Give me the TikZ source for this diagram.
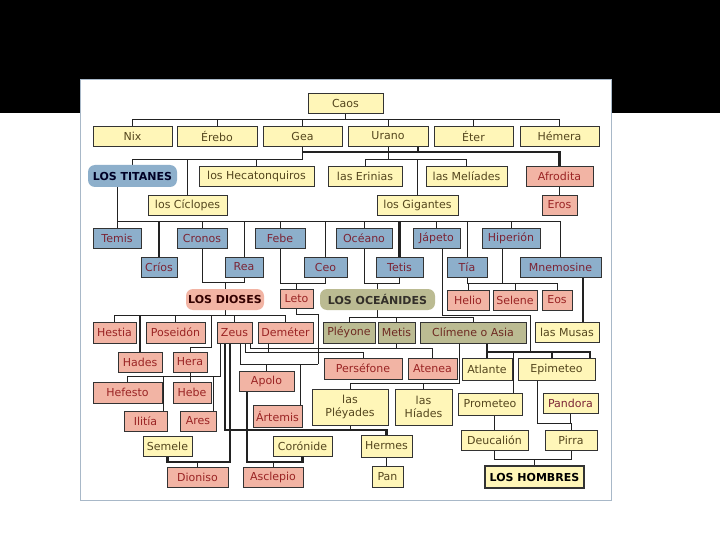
\documentclass[tikz,border=0pt]{standalone}
\usepackage{fontspec}
\setmainfont{DejaVu Sans}
\usetikzlibrary{shadows}
\definecolor{yf}{HTML}{FFF6B8}
\definecolor{bf}{HTML}{8DAFCB}
\definecolor{pf}{HTML}{F2B4A4}
\definecolor{of}{HTML}{BBBB92}
\definecolor{bd}{HTML}{333333}
\definecolor{yt}{HTML}{54461E}
\definecolor{bt}{HTML}{7B2435}
\definecolor{pt}{HTML}{9A2424}
\definecolor{ot}{HTML}{6E2A22}
\definecolor{lc}{HTML}{222222}
\definecolor{panelbd}{HTML}{A8B8C8}
\pgfdeclarelayer{bg}
\pgfdeclarelayer{lines}
\pgfsetlayers{bg,lines,main}
\newcommand\bx[7]{\node[#1, minimum width={(#5-#3)*1pt}, minimum height={(#6-#4)*1pt}] (#2) at ({(#3+#5)/2},{(#4+#6)/2}) {#7};}
\tikzset{
  bxs/.style={rectangle, inner sep=0pt, outer sep=0pt, draw=bd, line width=0.9pt, align=center,
    font=\fontsize{11}{13}\selectfont,
    drop shadow={shadow xshift=0.9pt, shadow yshift=-0.9pt, opacity=1, fill=bd}},
  yb/.style={bxs, fill=yf, text=yt},
  bb/.style={bxs, fill=bf, text=bt},
  pb/.style={bxs, fill=pf, text=pt},
  ob/.style={bxs, fill=of, text=ot},
  lab/.style={rectangle, rounded corners=7pt, inner sep=0pt, outer sep=0pt, font=\bfseries\fontsize{11}{12}\selectfont},
  ln/.style={draw=lc, line width=0.9pt},
  tk/.style={draw=lc, line width=2.2pt}
}
\begin{document}
\begin{tikzpicture}[x=1pt,y=-1pt]
\useasboundingbox (0,0) rectangle (720,540);
\begin{pgfonlayer}{bg}
\fill[white] (0,0) rectangle (720,540);
\fill[black] (0,0) rectangle (720,113);
\draw[fill=white, draw=panelbd, line width=1pt] (80,80) rectangle (611,500);
\end{pgfonlayer}
% row 0-1
\bx{yb}{caos}{308}{93}{383}{113}{Caos}
\bx{yb}{nix}{93}{126}{172}{146}{Nix}
\bx{yb}{erebo}{177}{126}{257}{146}{Érebo}
\bx{yb}{gea}{263}{126}{342}{146}{Gea}
\bx{yb}{urano}{348}{126}{428}{146}{Urano}
\bx{yb}{eter}{434}{126}{513}{146}{Éter}
\bx{yb}{hemera}{520}{126}{599}{146}{Hémera}
% row 2-3
\bx{lab, fill=bf, text=black!85!blue}{titanes}{88}{165}{177}{187}{LOS TITANES}
\bx{yb}{hecat}{199}{166}{314}{186}{los Hecatonquiros}
\bx{yb}{erinias}{328}{166}{402}{186}{las Erinias}
\bx{yb}{meliades}{426}{166}{507}{186}{las Melíades}
\bx{pb}{afrodita}{526}{166}{593}{186}{Afrodita}
\bx{yb}{ciclopes}{148}{195}{227}{215}{los Cíclopes}
\bx{yb}{gigantes}{377}{195}{458}{215}{los Gigantes}
\bx{pb}{eros}{542}{195}{577}{215}{Eros}
% titans
\bx{bb}{temis}{93}{228}{141}{248}{Temis}
\bx{bb}{cronos}{177}{228}{227}{248}{Cronos}
\bx{bb}{febe}{255}{228}{305}{248}{Febe}
\bx{bb}{oceano}{336}{228}{392}{248}{Océano}
\bx{bb}{japeto}{413}{228}{460}{248}{Jápeto}
\bx{bb}{hiperion}{482}{228}{540}{248}{Hiperión}
\bx{bb}{crios}{141}{257}{177}{277}{Críos}
\bx{bb}{rea}{225}{257}{263}{277}{Rea}
\bx{bb}{ceo}{304}{257}{347}{277}{Ceo}
\bx{bb}{tetis}{376}{257}{423}{277}{Tetis}
\bx{bb}{tia}{447}{257}{487}{277}{Tía}
\bx{bb}{mnemosine}{520}{257}{601}{277}{Mnemosine}
% row 6
\bx{lab, fill=pf, text=black!80!red}{dioses}{186}{289}{264}{310}{LOS DIOSES}
\bx{pb}{leto}{280}{289}{313}{308}{Leto}
\bx{lab, fill=of, text=black!85!olive}{oceanides}{320}{289}{435}{310}{LOS OCEÁNIDES}
\bx{pb}{helio}{447}{290}{489}{310}{Helio}
\bx{pb}{selene}{493}{290}{537}{310}{Selene}
\bx{pb}{eos}{542}{290}{572}{310}{Eos}
% row 7
\bx{pb}{hestia}{93}{322}{136}{343}{Hestia}
\bx{pb}{poseidon}{146}{322}{205}{343}{Poseidón}
\bx{pb}{zeus}{217}{322}{252}{343}{Zeus}
\bx{pb}{demeter}{258}{322}{313}{343}{Deméter}
\bx{ob}{pleyone}{323}{322}{375}{343}{Pléyone}
\bx{ob}{metis}{378}{322}{415}{343}{Metis}
\bx{ob}{climene}{420}{322}{526}{343}{Clímene o Asia}
\bx{yb}{musas}{535}{322}{599}{342}{las Musas}
% row 8
\bx{pb}{hades}{118}{352}{162}{372}{Hades}
\bx{pb}{hera}{173}{352}{207}{372}{Hera}
\bx{pb}{persefone}{324}{358}{402}{379}{Perséfone}
\bx{pb}{atenea}{408}{358}{457}{379}{Atenea}
\bx{yb}{atlante}{462}{358}{512}{380}{Atlante}
\bx{yb}{epimeteo}{518}{358}{595}{380}{Epimeteo}
\bx{pb}{apolo}{239}{371}{294}{391}{Apolo}
% row 9
\bx{pb}{hefesto}{93}{382}{162}{403}{Hefesto}
\bx{pb}{hebe}{173}{382}{211}{403}{Hebe}
\bx{yb}{pleyades}{312}{389}{388}{425}{las\\Pléyades}
\bx{yb}{hiades}{395}{389}{452}{425}{las\\Híades}
\bx{yb}{prometeo}{458}{393}{522}{415}{Prometeo}
\bx{yb, text=bt}{pandora}{543}{393}{598}{413}{Pandora}
\bx{pb}{ilitia}{124}{411}{167}{431}{Ilitía}
\bx{pb}{ares}{180}{411}{216}{431}{Ares}
\bx{pb}{artemis}{253}{405}{302}{427}{Ártemis}
% row 10-11
\bx{yb}{semele}{143}{436}{192}{456}{Semele}
\bx{yb}{coronide}{273}{436}{332}{456}{Corónide}
\bx{yb}{hermes}{361}{435}{412}{457}{Hermes}
\bx{yb}{deucalion}{461}{430}{528}{450}{Deucalión}
\bx{yb}{pirra}{545}{430}{597}{450}{Pirra}
\bx{pb}{dioniso}{167}{467}{228}{487}{Dioniso}
\bx{pb}{asclepio}{243}{467}{303}{487}{Asclepio}
\bx{yb}{pan}{372}{466}{403}{487}{Pan}
\bx{yb, line width=2pt, text=black, font=\bfseries\fontsize{11}{12}\selectfont}{hombres}{485}{466}{584}{488}{LOS HOMBRES}

\begin{pgfonlayer}{lines}
% Caos
\draw[ln] (caos.south) -- ++(0,6);
\draw[ln] (nix.north) -- ++(0,-7) -| (hemera.north);
\foreach \n in {erebo,gea,urano,eter} \draw[ln] (\n.north) -- ++(0,-7);
% Gea + Urano
\draw[ln] (gea.south) -- ++(0,13) -| (titanes.north);
\draw[ln] (ciclopes.north) -- ++(0,-36);
\draw[ln] (hecat.north) -- ++(0,-7);
\draw[tk] (gea.south) ++(0,6) -| (afrodita.north);
\draw[tk] ([xshift=-10pt]urano.south east) -- ++(0,6);
\draw[ln] (urano.south) -- ++(0,13);
\draw[ln] (erinias.north) -- ++(0,-7) -| (meliades.north);
\draw[ln] (gigantes.north) -- ++(0,-36);
\draw[ln] (afrodita.south) -- (eros.north);
% Titans
\draw[ln] (titanes.south -| temis.north) -- (temis.north);
\draw[ln] (temis.north) ++(0,-7) -| (mnemosine.north);
\foreach \n in {cronos,febe,oceano,japeto,hiperion} \draw[ln] (\n.north) -- ++(0,-7);
\foreach \n in {rea,ceo,tia} \draw[ln] (\n.north) -- ++(0,-36);
\foreach \n in {crios,tetis} \draw[tk] (\n.north) -- ++(0,-36);
% Titan couples
\draw[ln] (cronos.south) -- ++(0,34) -| (rea.south);
\draw[ln] (dioses.north) -- ++(0,-7);
\draw[ln] (febe.south) -- ++(0,35) -| (ceo.south);
\draw[ln] (leto.north) -- ++(0,-6);
\draw[ln] (oceano.south) -- ++(0,35) -| (tetis.south);
\draw[ln] (oceanides.north) -- ++(0,-6);
\draw[ln] ([xshift=-9pt]hiperion.south) -- ++(0,35) -| (tia.south);
\draw[ln] (tia.south) ++(0,6) -| (eos.north);
\draw[ln] (helio.north) -- ++(0,-7);
\draw[ln] (selene.north) -- ++(0,-7);
% Japeto + Climene
\draw[ln] ([xshift=6pt]japeto.south) |- (530,315) -- (530,352);
\draw[tk] (climene.south -| atlante.north) -- (atlante.north);
\draw[tk] (atlante.north) ++(0,-6) -- (590,352) -- (590,358);
\draw[ln] ([xshift=23pt]prometeo.north) -- ++(0,-41);
\draw[tk] ([xshift=-4.5pt]epimeteo.north) -- ++(0,-6);
% Mnemosine
\draw[tk] ([xshift=22.5pt]mnemosine.south) -- ([xshift=16pt]musas.north);
% Los dioses
\draw[ln] (dioses.south) -- ++(0,5);
\draw[ln] (hestia.north) -- ++(0,-7) -| (demeter.north);
\draw[ln] (poseidon.north) -- ++(0,-7);
\draw[ln] (zeus.north) -- ++(0,-7);
\draw[tk] (hades.north) -- ++(0,-37);
\draw[ln] (hera.north) -- ++(0,-5) -| (211,315);
% Oceanides
\draw[ln] (oceanides.south) -- ++(0,7);
\draw[ln] (pleyone.north) -- ++(0,-5) -| (climene.north);
\draw[ln] (metis.north) -- ++(0,-5);
% Zeus + Hera
\draw[ln] ([xshift=-14.5pt]zeus.south) -- ++(0,33) -| (hefesto.north);
\draw[ln] (hera.south) -- (hera.south |- hebe.north);
\draw[ln] ([xshift=17.5pt]ilitia.north) -- ++(0,-35);
\draw[ln] ([xshift=15pt]ares.north) -- ++(0,-35);
% Zeus + Pleyades -> Hermes
\draw[tk] ([xshift=-9.5pt]zeus.south) -- ++(0,87) -| (hermes.north);
\draw[ln] (pleyades.south) -- ++(0,5);
% Zeus + Semele -> Dioniso
\draw[tk] ([xshift=-4.5pt]zeus.south) -- ++(0,119) -| (semele.south);
\draw[ln] (dioniso.north) -- ++(0,-5);
% Apolo + Coronide -> Asclepio
\draw[tk] ([xshift=-19.5pt]apolo.south) -- ++(0,71) -| (coronide.south);
\draw[ln] (asclepio.north) -- ++(0,-5);
% Zeus + Leto
\draw[ln] (leto.south) -- ++(0,6) -| (318,364);
\draw[ln] ([xshift=5.5pt]zeus.south) |- (318,364);
\draw[ln] (apolo.north) -- ++(0,-7);
\draw[ln] ([xshift=22.5pt]artemis.north) -- ++(0,-41);
% Zeus + Demeter
\draw[ln] ([xshift=10.5pt]zeus.south) -- ++(0,9) -| (persefone.north);
\draw[ln] ([xshift=-17.5pt]demeter.south) -- ++(0,9);
% Zeus + Metis
\draw[ln] ([xshift=15.5pt]zeus.south) -- ++(0,5) -| (atenea.north);
\draw[ln] (metis.south) -- ++(0,5);
% Pleyone/Atlante -> Pleyades, Hiades
\draw[ln] ([xshift=39pt]climene.south west) -- ++(0,40) -| (pleyades.north);
\draw[ln] (hiades.north) -- ++(0,-6);
% Epimeteo + Pandora -> Pirra
\draw[ln] ([xshift=-19.5pt]epimeteo.south) -- ++(0,43) -| (pandora.south);
\draw[ln] (pirra.north) -- ++(0,-7);
% Prometeo -> Deucalion
\draw[ln] (prometeo.south -| deucalion.north) -- (deucalion.north);
% Deucalion + Pirra -> hombres
\draw[ln] (deucalion.south) -- ++(0,9) -| (pirra.south);
\draw[ln] (hombres.north) -- ++(0,-7);
% Hermes -> Pan
\draw[ln] (hermes.south) -- (hermes.south |- pan.north);
\end{pgfonlayer}
\end{tikzpicture}
\end{document}
